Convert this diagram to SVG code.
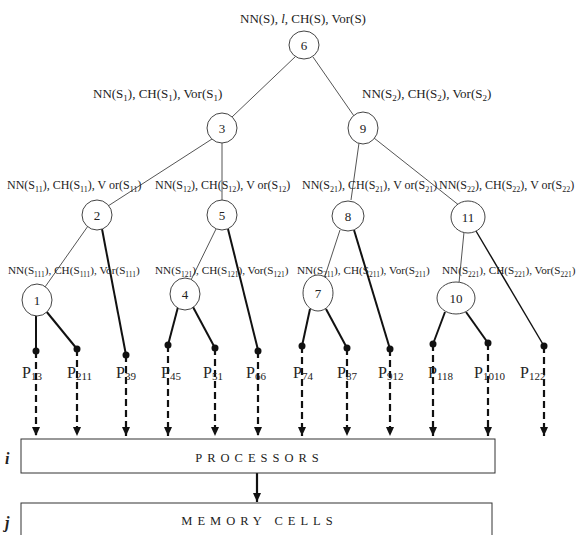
<svg xmlns="http://www.w3.org/2000/svg" width="579" height="535" viewBox="0 0 579 535">
<defs>
<marker id="ah" viewBox="0 0 9 8" refX="9" refY="4" markerWidth="9" markerHeight="8" markerUnits="userSpaceOnUse" orient="auto">
<path d="M0,0 L9,4 L0,8 Z" fill="#111"/>
</marker>
</defs>
<style>
text{font-family:"Liberation Serif","Times New Roman",serif;fill:#222}
.node ellipse{fill:#fff;stroke:#444;stroke-width:1}
.node text{font-size:13px;text-anchor:middle}
.thin{stroke:#555;stroke-width:1;fill:none}
.thick{stroke:#111;stroke-width:2;fill:none}
.dash{stroke:#111;stroke-width:2.2;stroke-dasharray:7,4;fill:none}
.dot{fill:#111}
.lbl{font-size:13px}
.lbl3{font-size:12px}
.lbl4{font-size:11.2px}
.leaf{font-size:16px}
.box{fill:#fff;stroke:#333;stroke-width:1}
.boxt{font-size:12.5px;letter-spacing:5px;text-anchor:middle}
.ij{font-size:16px;font-weight:bold;font-style:italic}
</style>
<g id="connectors">
<line class="thin" x1="296" y1="56" x2="232" y2="117"/>
<line class="thin" x1="313" y1="57" x2="354" y2="116"/>
<line class="thin" x1="212" y1="139" x2="108" y2="206"/>
<line class="thin" x1="222" y1="143" x2="222" y2="200"/>
<line class="thin" x1="359" y1="143" x2="351" y2="200"/>
<line class="thin" x1="374" y1="138" x2="460" y2="206"/>
<line class="thin" x1="88" y1="226" x2="45" y2="287"/>
<line class="thick" x1="102" y1="229" x2="126" y2="355"/>
<line class="thin" x1="216" y1="229" x2="191" y2="280"/>
<line class="thick" x1="228" y1="229" x2="258" y2="350"/>
<line class="thin" x1="340" y1="230" x2="324" y2="279"/>
<line class="thick" x1="354" y1="230" x2="390" y2="349"/>
<line class="thin" x1="464" y1="232" x2="459" y2="283"/>
<line class="thick" x1="476" y1="231" x2="544" y2="346" style="stroke-width:1.4"/>
<line class="thick" x1="36" y1="314" x2="36" y2="351"/>
<line class="thick" x1="46" y1="311" x2="77" y2="349"/>
<line class="thick" x1="178" y1="307" x2="168" y2="345"/>
<line class="thick" x1="193" y1="307" x2="215" y2="348"/>
<line class="thick" x1="310" y1="309" x2="302" y2="346"/>
<line class="thick" x1="326" y1="309" x2="347" y2="348"/>
<line class="thick" x1="445" y1="312" x2="433" y2="344"/>
<line class="thick" x1="466" y1="312" x2="488" y2="343"/>
<g>
<path class="dash" d="M36,351 V436" marker-end="url(#ah)"/>
<path class="dash" d="M77,349 V436" marker-end="url(#ah)"/>
<path class="dash" d="M126,355 V436" marker-end="url(#ah)"/>
<path class="dash" d="M168,345 V436" marker-end="url(#ah)"/>
<path class="dash" d="M215,348 V436" marker-end="url(#ah)"/>
<path class="dash" d="M258,351 V436" marker-end="url(#ah)"/>
<path class="dash" d="M302,346 V436" marker-end="url(#ah)"/>
<path class="dash" d="M347,348 V436" marker-end="url(#ah)"/>
<path class="dash" d="M390,349 V436" marker-end="url(#ah)"/>
<path class="dash" d="M433,344 V436" marker-end="url(#ah)"/>
<path class="dash" d="M488,343 V436" marker-end="url(#ah)"/>
<path class="dash" d="M544,346 V436" marker-end="url(#ah)"/>
</g>
<g class="dot">
<circle cx="36" cy="351" r="3.5"/><circle cx="77" cy="349" r="3.5"/><circle cx="126" cy="355" r="3.5"/>
<circle cx="168" cy="345" r="3.5"/><circle cx="215" cy="348" r="3.5"/><circle cx="258" cy="351" r="3.5"/>
<circle cx="302" cy="346" r="3.5"/><circle cx="347" cy="348" r="3.5"/><circle cx="390" cy="349" r="3.5"/>
<circle cx="433" cy="344" r="3.5"/><circle cx="488" cy="343" r="3.5"/><circle cx="544" cy="346" r="3.5"/>
</g>
<line x1="257" y1="473" x2="257" y2="502" stroke="#111" stroke-width="2.2" marker-end="url(#ah)"/>
</g>
<g id="labels">
<text class="lbl" x="240" y="23">NN(S), <tspan font-style="italic">l</tspan>, CH(S), Vor(S)</text>
<text class="lbl" x="93" y="98">NN(S<tspan font-size="9" dy="3">1</tspan><tspan dy="-3">), CH(S</tspan><tspan font-size="9" dy="3">1</tspan><tspan dy="-3">), Vor(S</tspan><tspan font-size="9" dy="3">1</tspan><tspan dy="-3">)</tspan></text>
<text class="lbl" x="362" y="98">NN(S<tspan font-size="9" dy="3">2</tspan><tspan dy="-3">), CH(S</tspan><tspan font-size="9" dy="3">2</tspan><tspan dy="-3">), Vor(S</tspan><tspan font-size="9" dy="3">2</tspan><tspan dy="-3">)</tspan></text>
<text class="lbl3" x="7" y="189">NN(S<tspan font-size="8" dy="3">11</tspan><tspan dy="-3">), CH(S</tspan><tspan font-size="8" dy="3">11</tspan><tspan dy="-3">), V or(S</tspan><tspan font-size="8" dy="3">11</tspan><tspan dy="-3">)</tspan></text>
<text class="lbl3" x="155" y="189">NN(S<tspan font-size="8" dy="3">12</tspan><tspan dy="-3">), CH(S</tspan><tspan font-size="8" dy="3">12</tspan><tspan dy="-3">), V or(S</tspan><tspan font-size="8" dy="3">12</tspan><tspan dy="-3">)</tspan></text>
<text class="lbl3" x="302" y="189">NN(S<tspan font-size="8" dy="3">21</tspan><tspan dy="-3">), CH(S</tspan><tspan font-size="8" dy="3">21</tspan><tspan dy="-3">), V or(S</tspan><tspan font-size="8" dy="3">21</tspan><tspan dy="-3">)</tspan></text>
<text class="lbl3" x="439" y="189">NN(S<tspan font-size="8" dy="3">22</tspan><tspan dy="-3">), CH(S</tspan><tspan font-size="8" dy="3">22</tspan><tspan dy="-3">), V or(S</tspan><tspan font-size="8" dy="3">22</tspan><tspan dy="-3">)</tspan></text>
<text class="lbl4" x="8" y="274">NN(S<tspan font-size="7.5" dy="3">111</tspan><tspan dy="-3">), CH(S</tspan><tspan font-size="7.5" dy="3">111</tspan><tspan dy="-3">), Vor(S</tspan><tspan font-size="7.5" dy="3">111</tspan><tspan dy="-3">)</tspan></text>
<text class="lbl4" x="155" y="274">NN(S<tspan font-size="7.5" dy="3">121</tspan><tspan dy="-3">), CH(S</tspan><tspan font-size="7.5" dy="3">121</tspan><tspan dy="-3">), Vor(S</tspan><tspan font-size="7.5" dy="3">121</tspan><tspan dy="-3">)</tspan></text>
<text class="lbl4" x="297" y="274">NN(S<tspan font-size="7.5" dy="3">211</tspan><tspan dy="-3">), CH(S</tspan><tspan font-size="7.5" dy="3">211</tspan><tspan dy="-3">), Vor(S</tspan><tspan font-size="7.5" dy="3">211</tspan><tspan dy="-3">)</tspan></text>
<text class="lbl4" x="442" y="274">NN(S<tspan font-size="7.5" dy="3">221</tspan><tspan dy="-3">), CH(S</tspan><tspan font-size="7.5" dy="3">221</tspan><tspan dy="-3">), Vor(S</tspan><tspan font-size="7.5" dy="3">221</tspan><tspan dy="-3">)</tspan></text>
</g>
<g id="leaf-labels">
<text class="leaf" x="22" y="378">P<tspan font-size="11" dy="2">13</tspan></text>
<text class="leaf" x="67" y="378">P<tspan font-size="11" dy="2">211</tspan></text>
<text class="leaf" x="116" y="378">P<tspan font-size="11" dy="2">39</tspan></text>
<text class="leaf" x="161" y="378">P<tspan font-size="11" dy="2">45</tspan></text>
<text class="leaf" x="203" y="378">P<tspan font-size="11" dy="2">51</tspan></text>
<text class="leaf" x="246" y="378">P<tspan font-size="11" dy="2">66</tspan></text>
<text class="leaf" x="293" y="378">P<tspan font-size="11" dy="2">74</tspan></text>
<text class="leaf" x="337" y="378">P<tspan font-size="11" dy="2">87</tspan></text>
<text class="leaf" x="378" y="378">P<tspan font-size="11" dy="2">912</tspan></text>
<text class="leaf" x="428" y="378">P<tspan font-size="11" dy="2">118</tspan></text>
<text class="leaf" x="474" y="378">P<tspan font-size="11" dy="2">1010</tspan></text>
<text class="leaf" x="520" y="378">P<tspan font-size="11" dy="2">122</tspan></text>
</g>
<g id="n6" class="node"><ellipse cx="304" cy="45" rx="15" ry="14"/><text x="304" y="50">6</text></g>
<g id="n3" class="node"><ellipse cx="222" cy="128" rx="15" ry="15"/><text x="222" y="133">3</text></g>
<g id="n9" class="node"><ellipse cx="363" cy="128" rx="15" ry="16"/><text x="363" y="133">9</text></g>
<g id="n2" class="node"><ellipse cx="97" cy="215" rx="15" ry="15"/><text x="97" y="220">2</text></g>
<g id="n5" class="node"><ellipse cx="222" cy="215" rx="15" ry="15"/><text x="222" y="220">5</text></g>
<g id="n8" class="node"><ellipse cx="348" cy="216" rx="16" ry="15"/><text x="348" y="221">8</text></g>
<g id="n11" class="node"><ellipse cx="468" cy="217" rx="17" ry="16"/><text x="468" y="222">11</text></g>
<g id="n1" class="node"><ellipse cx="37" cy="300" rx="15" ry="16"/><text x="37" y="305">1</text></g>
<g id="n4" class="node"><ellipse cx="185" cy="294" rx="15" ry="16"/><text x="185" y="299">4</text></g>
<g id="n7" class="node"><ellipse cx="318" cy="293" rx="15" ry="18"/><text x="318" y="298">7</text></g>
<g id="n10" class="node"><ellipse cx="456" cy="298" rx="19" ry="16"/><text x="456" y="303">10</text></g>
<g id="processors"><rect class="box" x="21" y="439" width="474" height="34"/><text class="boxt" x="259.5" y="462">PROCESSORS</text></g>
<g id="memory"><rect class="box" x="21" y="503" width="471" height="40"/><text class="boxt" x="259.5" y="525">MEMORY CELLS</text></g>
<text class="ij" x="5" y="464">i</text>
<text class="ij" x="5" y="528">j</text>
</svg>
